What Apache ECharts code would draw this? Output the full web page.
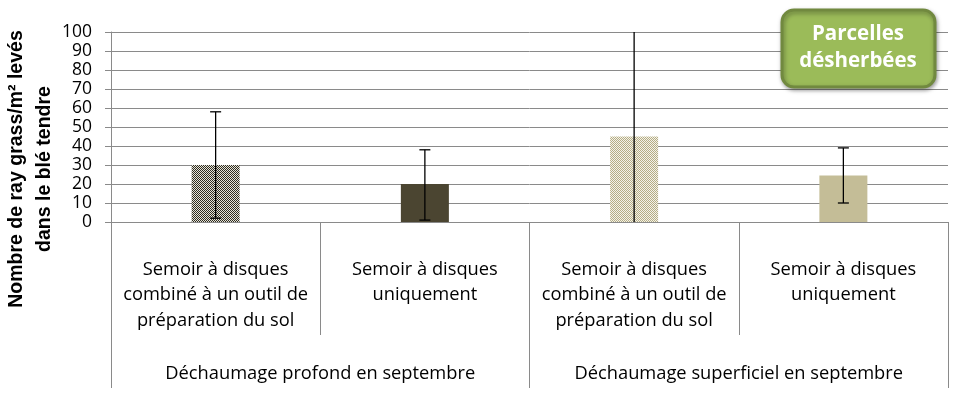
<!DOCTYPE html>
<html><head><meta charset="utf-8">
<script src="https://cdn.jsdelivr.net/npm/echarts@6/dist/echarts.min.js"></script>
<style>html,body{margin:0;padding:0;background:#fff}#c{width:954px;height:395px}</style>
</head><body><div id="c"></div>
<script>
const categories = ['Semoir à disques\ncombiné à un outil de\npréparation du sol','Semoir à disques\nuniquement','Semoir à disques\ncombiné à un outil de\npréparation du sol','Semoir à disques\nuniquement'];
const groups = ['Déchaumage profond en septembre','Déchaumage superficiel en septembre'];
const values = [30, 20, 45, 24.5];
const errLow = [2, 1, -12, 10];
const errHigh = [58, 38, 102, 39];
const yTicks = [0,10,20,30,40,50,60,70,80,90,100];

function checker(c1, c2, cell) {
  const cv = document.createElement('canvas');
  cv.width = cell*2; cv.height = cell*2;
  const g = cv.getContext('2d');
  g.fillStyle = c1; g.fillRect(0,0,cell*2,cell*2);
  g.fillStyle = c2; g.fillRect(0,0,cell,cell); g.fillRect(cell,cell,cell,cell);
  return {image: cv, repeat: 'repeat'};
}
const fills = [
  checker('#e6e4da', '#2f2c20', 1),
  '#4b4531',
  checker('#f4f2ea', '#b5ad84', 1),
  '#c4bd97'
];

const chart = echarts.init(document.getElementById('c'), null, {renderer:'canvas'});
const gray = '#8a8a8a';
const labFont = 'Open Sans';
chart.setOption({
  animation: false,
  grid: {left: 111, right: 6, top: 32, bottom: 173},
  xAxis: [{
    type: 'category', data: categories, position: 'bottom', offset: 0,
    axisLine: {show: true, lineStyle: {color: gray, width: 1}},
    axisTick: {show: true, length: 113, interval: 0, lineStyle: {color: gray}},
    axisLabel: {interval: 0, margin: 35, color: '#000', fontFamily: labFont, fontSize: 18.3, lineHeight: 25.5, verticalAlign: 'top'},
  }, {
    type: 'category', data: groups, position: 'bottom', offset: 0,
    axisLine: {show: true, lineStyle: {color: gray, width: 1}},
    axisTick: {show: true, length: 166, interval: 0, lineStyle: {color: gray}},
    axisLabel: {interval: 0, margin: 152, color: '#000', fontFamily: labFont, fontSize: 18.3, verticalAlign: 'middle'},
  }],
  yAxis: {
    type: 'value', min: 0, max: 100, interval: 10,
    axisLine: {show: true, lineStyle: {color: gray}},
    axisTick: {show: true, length: 6, lineStyle: {color: gray}},
    axisLabel: {margin: 19, color: '#000', fontFamily: labFont, fontSize: 17.5,
      formatter: v => yTicks.includes(v) ? String(v) : ''},
    splitLine: {show: true, lineStyle: {color: gray, width: 1}}
  },
  series: [{
    type: 'bar', xAxisIndex: 0, barWidth: 48,
    data: values.map((v,i) => ({value: v, itemStyle: {color: fills[i]}})),
    z: 2
  }, {
    type: 'custom', xAxisIndex: 0, z: 5,
    data: values.map((v,i) => [i, errLow[i], errHigh[i]]),
    renderItem: function(params, api) {
      const x = api.value(0), lo = api.value(1), hi = api.value(2);
      const cLo = api.coord([x, Math.max(lo, 0)]);
      const cHi = api.coord([x, Math.min(hi, 100)]);
      const half = 5.5;
      const children = [{type: 'line', shape: {x1: cLo[0], y1: cLo[1], x2: cHi[0], y2: cHi[1]}, style: {stroke: '#000', lineWidth: 1.3}}];
      if (lo >= 0) children.push({type: 'line', shape: {x1: cLo[0]-half, y1: cLo[1], x2: cLo[0]+half, y2: cLo[1]}, style: {stroke: '#000', lineWidth: 1.3}});
      if (hi <= 100) children.push({type: 'line', shape: {x1: cHi[0]-half, y1: cHi[1], x2: cHi[0]+half, y2: cHi[1]}, style: {stroke: '#000', lineWidth: 1.3}});
      return {type: 'group', children: children};
    }
  }],
  graphic: [{
    type: 'text', x: 31, y: 169, rotation: Math.PI/2,
    style: {text: 'Nombre de ray grass/m² levés\ndans le blé tendre', fill: '#000',
      font: 'bold 19.5px "Liberation Sans", Arial, sans-serif', textAlign: 'center', textVerticalAlign: 'middle', lineHeight: 28}
  }, {
    type: 'rect', shape: {x: 782, y: 10, width: 153, height: 77, r: 12},
    style: {fill: '#9bbb59', stroke: '#71893f', lineWidth: 3, shadowBlur: 4, shadowColor: 'rgba(0,0,0,0.35)', shadowOffsetX: 1, shadowOffsetY: 2}, z: 10
  }, {
    type: 'text', x: 858, y: 48, z: 11,
    style: {text: 'Parcelles\ndésherbées', fill: '#fff', font: 'bold 20.5px "Open Sans", sans-serif', textAlign: 'center', textVerticalAlign: 'middle', lineHeight: 27}
  }]
});
</script></body></html>
